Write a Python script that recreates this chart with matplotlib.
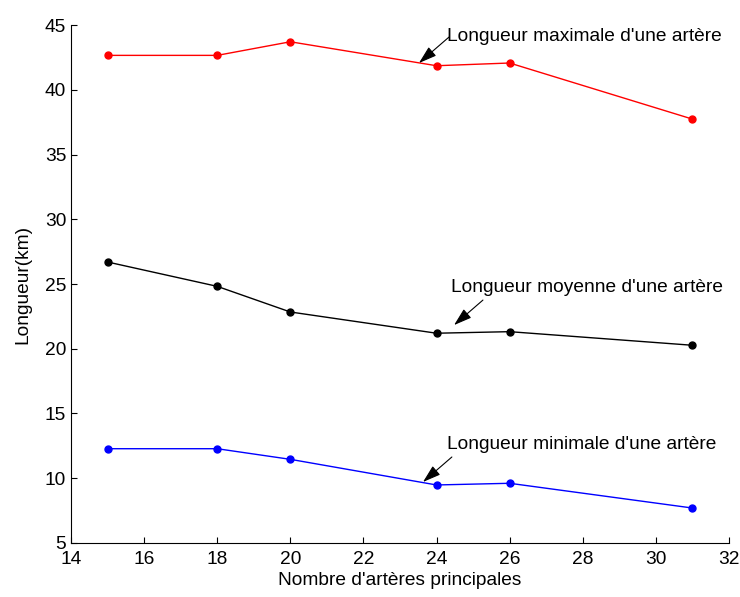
import matplotlib
matplotlib.use("Agg")
import matplotlib.pyplot as plt

plt.rcParams['font.family'] = ['Liberation Sans', 'DejaVu Sans']

# number of main arteries
nb_arteres = [15, 18, 20, 24, 26, 31]
long_max = [42.66, 42.66, 43.71, 41.86, 42.07, 37.74]
long_moy = [26.70, 24.82, 22.84, 21.20, 21.32, 20.27]
long_min = [12.28, 12.28, 11.46, 9.48, 9.61, 7.70]

fs = 13.8

fig = plt.figure(figsize=(7.4, 5.97), dpi=100)
ax = fig.add_axes([0.096, 0.0905, 0.889, 0.8675])

ax.plot(nb_arteres, long_max, 'r.-', markersize=10, linewidth=1)
ax.plot(nb_arteres, long_moy, 'k.-', markersize=10, linewidth=1)
ax.plot(nb_arteres, long_min, 'b.-', markersize=10, linewidth=1)

ax.set_xlim(14, 32)
ax.set_ylim(5, 45)
ax.set_xticks(range(14, 33, 2))
ax.set_yticks(range(5, 46, 5))
ax.tick_params(direction='in', length=4, labelsize=fs, width=0.8)
ax.tick_params(axis='x', pad=6)
ax.spines['top'].set_visible(False)
ax.spines['right'].set_visible(False)

ax.set_xlabel("Nombre d'artères principales", fontsize=fs, labelpad=3)
ax.set_ylabel("Longueur(km)", fontsize=fs, labelpad=10)

arrow = dict(arrowstyle='-|>,head_length=1.1,head_width=0.35', color='k',
             lw=0.8, shrinkA=0, shrinkB=0)
txt = dict(fontsize=fs, ha='left', va='center')

ax.annotate("", xy=(23.52, 42.07), xytext=(24.34, 44.07), arrowprops=arrow)
ax.text(24.30, 44.15, "Longueur maximale d'une artère", **txt)
ax.annotate("", xy=(24.48, 21.83), xytext=(25.27, 23.76), arrowprops=arrow)
ax.text(24.39, 24.77, "Longueur moyenne d'une artère", **txt)
ax.annotate("", xy=(23.63, 9.71), xytext=(24.42, 11.64), arrowprops=arrow)
ax.text(24.30, 12.64, "Longueur minimale d'une artère", **txt)

fig.savefig("out.png", dpi=100)
